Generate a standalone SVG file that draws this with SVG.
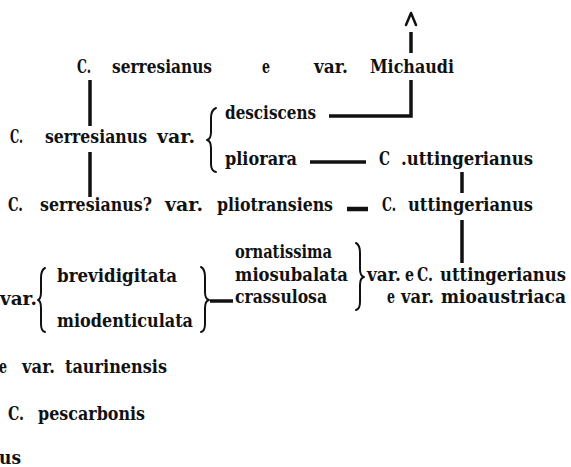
<svg xmlns="http://www.w3.org/2000/svg" width="571" height="467" viewBox="0 0 571 467">
<style>
text{font-family:"DejaVu Serif","Liberation Serif",serif;font-weight:bold;font-size:18px;fill:#111;}
.ln{stroke:#111;stroke-width:3.5;fill:none;}
.br{stroke:#111;stroke-width:2;fill:none;stroke-linecap:round;stroke-linejoin:round;}
</style>
<rect width="571" height="467" fill="#fff"/>
<g id="connectors">
<polyline class="br" points="406,25 411,13 416,25" style="stroke-width:2.5"/>
<line class="ln" x1="411" y1="32" x2="411" y2="53"/>
<polyline class="ln" points="329,116 411,116 411,80"/>
<line class="ln" x1="90" y1="80" x2="90" y2="126"/>
<line class="ln" x1="90" y1="152" x2="90" y2="197"/>
<line class="ln" x1="310" y1="162" x2="366" y2="162"/>
<line class="ln" x1="462" y1="172" x2="462" y2="193"/>
<line class="ln" x1="347" y1="209" x2="368" y2="209" style="stroke-width:4.5"/>
<line class="ln" x1="462" y1="220" x2="462" y2="263"/>
<line class="ln" x1="210" y1="301" x2="233" y2="301"/>
</g>
<g id="n1">
<text x="77" y="73" textLength="14" lengthAdjust="spacingAndGlyphs">C.</text>
<text x="112" y="73" textLength="100" lengthAdjust="spacingAndGlyphs">serresianus</text>
<text x="262" y="73" textLength="8" lengthAdjust="spacingAndGlyphs">e</text>
<text x="314" y="73" textLength="34" lengthAdjust="spacingAndGlyphs">var.</text>
<text x="370" y="73" textLength="84" lengthAdjust="spacingAndGlyphs">Michaudi</text>
</g>
<g id="n2">
<text x="10" y="143" textLength="13" lengthAdjust="spacingAndGlyphs">C.</text>
<text x="45" y="143" textLength="102" lengthAdjust="spacingAndGlyphs">serresianus</text>
<text x="157" y="143" textLength="38" lengthAdjust="spacingAndGlyphs">var.</text>
<path class="br" d="M216,108 Q211,110 211,118 L211,132 Q211,139 207,140 Q211,141 211,148 L211,164 Q211,171 216,172"/>
</g>
<g id="n3">
<text x="225" y="119" textLength="91" lengthAdjust="spacingAndGlyphs">desciscens</text>
</g>
<g id="n4">
<text x="225" y="165" textLength="72" lengthAdjust="spacingAndGlyphs">pliorara</text>
</g>
<g id="n5">
<text x="379" y="165" textLength="11" lengthAdjust="spacingAndGlyphs">C</text>
<text x="401" y="165" textLength="132" lengthAdjust="spacingAndGlyphs">.uttingerianus</text>
</g>
<g id="n6">
<text x="8" y="211" textLength="15" lengthAdjust="spacingAndGlyphs">C.</text>
<text x="40" y="211" textLength="112" lengthAdjust="spacingAndGlyphs">serresianus?</text>
<text x="165" y="211" textLength="38" lengthAdjust="spacingAndGlyphs">var.</text>
<text x="217" y="211" textLength="116" lengthAdjust="spacingAndGlyphs">pliotransiens</text>
</g>
<g id="n7">
<text x="382" y="211" textLength="14" lengthAdjust="spacingAndGlyphs">C.</text>
<text x="408" y="211" textLength="125" lengthAdjust="spacingAndGlyphs">uttingerianus</text>
</g>
<g id="n8">
<text x="0" y="305" textLength="37" lengthAdjust="spacingAndGlyphs">var.</text>
<path class="br" d="M45,268 Q41,270 41,278 L41,292 Q41,299 38,300 Q41,301 41,308 L41,324 Q41,331 45,332"/>
<text x="57" y="282" textLength="120" lengthAdjust="spacingAndGlyphs">brevidigitata</text>
<text x="57" y="327" textLength="136" lengthAdjust="spacingAndGlyphs">miodenticulata</text>
<path class="br" d="M201,267 Q205,269 205,277 L205,292 Q205,299 209,300 Q205,301 205,308 L205,324 Q205,331 201,332"/>
</g>
<g id="n9">
<text x="235" y="258" textLength="97" lengthAdjust="spacingAndGlyphs">ornatissima</text>
<text x="235" y="281" textLength="113" lengthAdjust="spacingAndGlyphs">miosubalata</text>
<text x="235" y="303" textLength="92" lengthAdjust="spacingAndGlyphs">crassulosa</text>
<path class="br" d="M356,243 Q360,245 360,253 L360,269 Q360,276 364,277 Q360,278 360,285 L360,302 Q360,309 356,310"/>
</g>
<g id="n10">
<text x="367" y="281" textLength="34" lengthAdjust="spacingAndGlyphs">var.</text>
<text x="405" y="281" textLength="9" lengthAdjust="spacingAndGlyphs">e</text>
<text x="417" y="281" textLength="16" lengthAdjust="spacingAndGlyphs">C.</text>
<text x="440" y="281" textLength="126" lengthAdjust="spacingAndGlyphs">uttingerianus</text>
<text x="387" y="303" textLength="8" lengthAdjust="spacingAndGlyphs">e</text>
<text x="401" y="303" textLength="33" lengthAdjust="spacingAndGlyphs">var.</text>
<text x="441" y="303" textLength="125" lengthAdjust="spacingAndGlyphs">mioaustriaca</text>
</g>
<g id="n11">
<text x="-1" y="373" textLength="8" lengthAdjust="spacingAndGlyphs">e</text>
<text x="22" y="373" textLength="33" lengthAdjust="spacingAndGlyphs">var.</text>
<text x="65" y="373" textLength="102" lengthAdjust="spacingAndGlyphs">taurinensis</text>
</g>
<g id="n12">
<text x="8" y="420" textLength="16" lengthAdjust="spacingAndGlyphs">C.</text>
<text x="38" y="420" textLength="107" lengthAdjust="spacingAndGlyphs">pescarbonis</text>
</g>
<g id="n13">
<text x="-1" y="464" textLength="22" lengthAdjust="spacingAndGlyphs">us</text>
</g>
</svg>
